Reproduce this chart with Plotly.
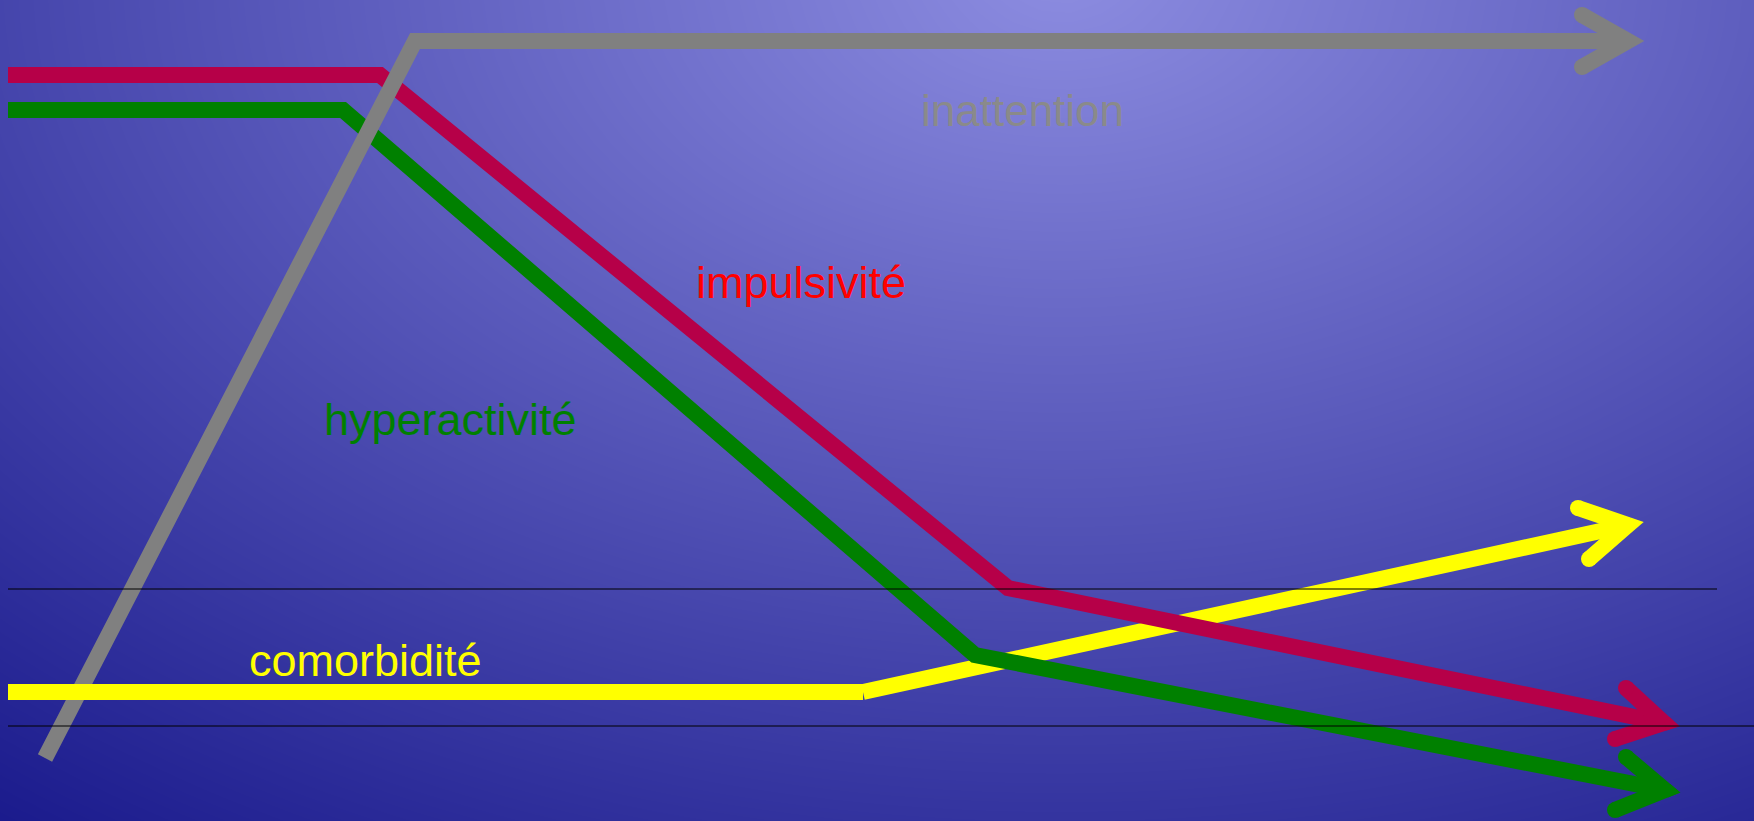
import numpy as np
import plotly.graph_objects as go

W, H = 1754, 821

# ---- data (pixel-space coordinates) ----
inattention_x = [45, 415, 1628]
inattention_y = [758, 41, 41]
impulsivite_x = [8, 380, 1008, 1664]
impulsivite_y = [75, 75, 588, 723]
hyperactivite_x = [8, 343, 975, 1665]
hyperactivite_y = [110, 110, 655, 790]
comorbidite_x = [8, 863, 1628]
comorbidite_y = [692, 692, 525]

# arrow-head wing ends (upper wing, lower wing)
inattention_wings = [(1582, 15), (1582, 67)]
impulsivite_wings = [(1626, 688), (1615, 739)]
hyperactivite_wings = [(1626, 757), (1615, 810)]
comorbidite_wings = [(1578, 508), (1589, 559)]

# thin reference lines
ref_lines_y = [589, 726]
ref_lines_x_end = [1717, 1754]

labels = ["inattention", "impulsivité", "hyperactivité", "comorbidité"]
label_x = [1022, 801, 450, 365]
label_y = [110, 282, 419, 660]
label_colors = ["#8a8a8a", "#ff0000", "#008000", "#ffff00"]
label_sizes = [44, 45, 45, 45]

c_gray, c_red, c_green, c_yellow = "#808080", "#b60048", "#008000", "#ffff00"
LW = 16

fig = go.Figure()

# ---- background radial gradient ----
gx = np.linspace(0, W, 60)
gy = np.linspace(0, H, 30)
X, Y = np.meshgrid(gx, gy)
Z = np.sqrt(((X - 1060) / 1800) ** 2 + ((Y + 20) / 1140) ** 2)
fig.add_trace(go.Heatmap(x=gx, y=gy, z=Z, zmin=0, zmax=0.95, zsmooth="best",
                         colorscale=[[0, "#8c8ce0"], [1, "#1a1a8c"]],
                         showscale=False, hoverinfo="skip"))


def line(xs, ys, color):
    fig.add_trace(go.Scatter(x=xs, y=ys, mode="lines",
                             line=dict(color=color, width=LW),
                             hoverinfo="skip"))


def arrow(xs, ys, wings, color):
    V = np.array([xs[-1], ys[-1]], dtype=float)
    W1 = np.array(wings[0], dtype=float)
    W2 = np.array(wings[1], dtype=float)
    fig.add_trace(go.Scatter(x=[W1[0], V[0], W2[0]], y=[W1[1], V[1], W2[1]],
                             mode="lines", line=dict(color=color, width=LW),
                             hoverinfo="skip"))
    # round caps at wing ends
    fig.add_trace(go.Scatter(x=[W1[0], W2[0]], y=[W1[1], W2[1]], mode="markers",
                             marker=dict(color=color, size=LW, line=dict(width=0)),
                             hoverinfo="skip"))
    # sharp (mitred) tip
    u1 = (W1 - V) / np.linalg.norm(W1 - V)
    u2 = (W2 - V) / np.linalg.norm(W2 - V)
    b = -(u1 + u2)
    b /= np.linalg.norm(b)
    sin_half = np.sqrt((1 - np.dot(u1, u2)) / 2)
    h = LW / 2
    T = V + b * h / sin_half
    n1 = np.array([-u1[1], u1[0]])
    if np.dot(n1, u2) > 0:
        n1 = -n1
    n2 = np.array([-u2[1], u2[0]])
    if np.dot(n2, u1) > 0:
        n2 = -n2
    P1, P2 = V + n1 * h, V + n2 * h
    fig.add_trace(go.Scatter(x=[P1[0], T[0], P2[0], V[0], P1[0]],
                             y=[P1[1], T[1], P2[1], V[1], P1[1]],
                             mode="lines", fill="toself", fillcolor=color,
                             line=dict(width=0, color=color), hoverinfo="skip"))


# drawing order follows the overlaps in the reference
line(comorbidite_x[1:], comorbidite_y[1:], c_yellow)
arrow(comorbidite_x, comorbidite_y, comorbidite_wings, c_yellow)
line(impulsivite_x, impulsivite_y, c_red)
arrow(impulsivite_x, impulsivite_y, impulsivite_wings, c_red)
line(hyperactivite_x, hyperactivite_y, c_green)
arrow(hyperactivite_x, hyperactivite_y, hyperactivite_wings, c_green)
line(inattention_x, inattention_y, c_gray)
arrow(inattention_x, inattention_y, inattention_wings, c_gray)
line(comorbidite_x[:2], comorbidite_y[:2], c_yellow)

for yv, xe in zip(ref_lines_y, ref_lines_x_end):
    fig.add_trace(go.Scatter(x=[8, xe], y=[yv, yv], mode="lines",
                             line=dict(color="black", width=1.2),
                             hoverinfo="skip"))

for t, x, y, c, s in zip(labels, label_x, label_y, label_colors, label_sizes):
    fig.add_annotation(x=x, y=y, xref="x", yref="y", text=t, showarrow=False,
                       font=dict(family="Liberation Sans, Arial, sans-serif",
                                 size=s, color=c),
                       xanchor="center", yanchor="middle")

fig.update_layout(width=W, height=H, margin=dict(l=0, r=0, t=0, b=0),
                  showlegend=False, paper_bgcolor="#3a3aa5",
                  plot_bgcolor="rgba(0,0,0,0)",
                  xaxis=dict(range=[0, W], visible=False, fixedrange=True),
                  yaxis=dict(range=[H, 0], visible=False, fixedrange=True))

fig.write_html("out.html", config={"displayModeBar": False},
               post_script="document.body.style.margin='0';document.body.style.overflow='hidden';")
